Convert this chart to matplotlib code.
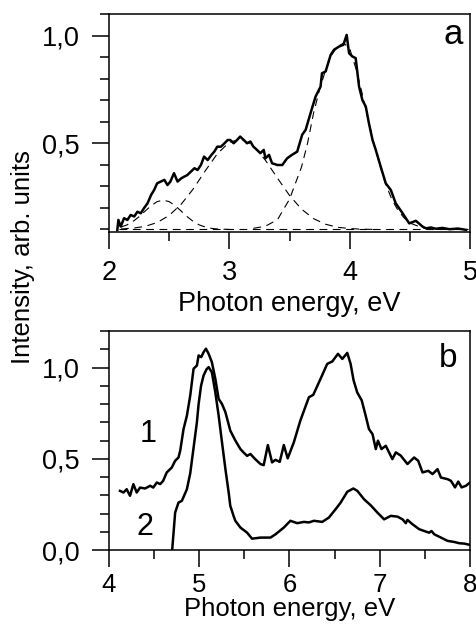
import matplotlib
matplotlib.use("Agg")
import matplotlib.pyplot as plt
from matplotlib.ticker import MultipleLocator, FuncFormatter

plt.rcParams['font.family'] = ['Liberation Sans', 'DejaVu Sans']

# ---------------- Panel a data ----------------
a_x = [2.069, 2.078, 2.097, 2.125, 2.153, 2.18, 2.21, 2.236, 2.264, 2.29, 2.32, 2.35,
       2.375, 2.40, 2.43, 2.46, 2.486, 2.51, 2.54, 2.57, 2.60, 2.625, 2.65, 2.68, 2.71,
       2.736, 2.764, 2.79, 2.82, 2.85, 2.875, 2.90, 2.93, 2.96, 2.986, 3.008, 3.036,
       3.064, 3.09, 3.12, 3.147, 3.175, 3.20, 3.23, 3.258, 3.286, 3.30, 3.33, 3.355,
       3.40, 3.44, 3.48, 3.52, 3.564, 3.605, 3.634, 3.675, 3.717, 3.758, 3.77, 3.80,
       3.842, 3.87, 3.912, 3.948, 3.975, 3.995, 4.022, 4.05, 4.078, 4.106, 4.134, 4.16,
       4.19, 4.217, 4.258, 4.30, 4.342, 4.383, 4.44, 4.495, 4.55, 4.606, 4.634, 4.675,
       4.717, 4.77, 4.83, 4.90, 4.967]
a_y = [0.097, 0.144, 0.113, 0.152, 0.144, 0.167, 0.160, 0.182, 0.175, 0.198, 0.221, 0.260,
       0.283, 0.314, 0.322, 0.330, 0.306, 0.322, 0.361, 0.322, 0.337, 0.345, 0.352, 0.368,
       0.384, 0.376, 0.399, 0.438, 0.422, 0.445, 0.461, 0.484, 0.484, 0.500, 0.515, 0.515,
       0.500, 0.515, 0.531, 0.515, 0.500, 0.508, 0.484, 0.469, 0.454, 0.469, 0.430, 0.446,
       0.407, 0.399, 0.399, 0.430, 0.446, 0.461, 0.539, 0.562, 0.640, 0.717, 0.763, 0.825,
       0.833, 0.910, 0.934, 0.949, 0.957, 1.003, 0.918, 0.903, 0.895, 0.763, 0.700, 0.670,
       0.593, 0.515, 0.469, 0.391, 0.314, 0.283, 0.221, 0.175, 0.128, 0.140, 0.113, 0.105,
       0.109, 0.103, 0.107, 0.101, 0.104, 0.098]

g1_x = [2.10, 2.15, 2.20, 2.25, 2.30, 2.35, 2.40, 2.45, 2.50, 2.55, 2.60, 2.65, 2.70,
        2.75, 2.80, 2.85, 2.90, 2.95, 3.00]
g1_y = [0.111, 0.121, 0.137, 0.159, 0.185, 0.210, 0.229, 0.236, 0.229, 0.210, 0.185,
        0.159, 0.137, 0.121, 0.111, 0.105, 0.102, 0.101, 0.100]

g2_x = [2.1, 2.2, 2.3, 2.4, 2.5, 2.6, 2.7, 2.8, 2.9, 3.0, 3.1, 3.2, 3.3, 3.4, 3.5, 3.6,
        3.7, 3.8, 3.9, 4.0, 4.1, 4.2]
g2_y = [0.102, 0.106, 0.114, 0.132, 0.165, 0.217, 0.288, 0.372, 0.451, 0.505, 0.519,
        0.488, 0.421, 0.338, 0.258, 0.194, 0.150, 0.124, 0.110, 0.104, 0.101, 0.100]

g3_x = [3.2, 3.3, 3.4, 3.5, 3.6, 3.65, 3.7, 3.75, 3.8, 3.85, 3.9, 3.95, 4.0, 4.05, 4.1,
        4.15, 4.2, 4.25, 4.3, 4.35, 4.4, 4.45, 4.5, 4.6, 4.7, 4.8]
g3_y = [0.105, 0.115, 0.145, 0.24, 0.39, 0.50, 0.64, 0.75, 0.84, 0.91, 0.95, 0.965,
        0.94, 0.85, 0.74, 0.62, 0.50, 0.40, 0.31, 0.24, 0.19, 0.155, 0.13, 0.108, 0.10, 0.10]

base_x = [2.08, 4.98]
base_y = [0.10, 0.10]

# ---------------- Panel b data ----------------
b1_x = [4.122, 4.16, 4.196, 4.233, 4.27, 4.307, 4.344, 4.40, 4.456, 4.49, 4.53, 4.567,
        4.60, 4.64, 4.696, 4.733, 4.77, 4.789, 4.826, 4.863, 4.90, 4.937, 4.974, 4.993,
        5.022, 5.048, 5.074, 5.104, 5.14, 5.178, 5.215, 5.252, 5.29, 5.344, 5.40, 5.456,
        5.49, 5.53, 5.567, 5.62, 5.678, 5.714, 5.76, 5.807, 5.844, 5.892, 5.937, 5.98,
        6.048, 6.12, 6.215, 6.263, 6.344, 6.418, 6.474, 6.537, 6.585, 6.64, 6.677, 6.71,
        6.75, 6.80, 6.844, 6.88, 6.92, 6.956, 6.98, 7.019, 7.067, 7.14, 7.178, 7.233,
        7.307, 7.381, 7.426, 7.474, 7.537, 7.585, 7.64, 7.678, 7.752, 7.789, 7.834, 7.87,
        7.907, 7.956, 8.0]
b1_y = [0.324, 0.315, 0.333, 0.297, 0.361, 0.315, 0.342, 0.337, 0.352, 0.342, 0.370, 0.361,
        0.379, 0.425, 0.452, 0.489, 0.507, 0.544, 0.663, 0.736, 0.846, 0.993, 1.011, 1.066,
        1.057, 1.084, 1.103, 1.075, 1.029, 0.938, 0.828, 0.800, 0.755, 0.654, 0.600, 0.553,
        0.535, 0.516, 0.526, 0.498, 0.471, 0.465, 0.575, 0.480, 0.494, 0.483, 0.575, 0.502,
        0.590, 0.709, 0.837, 0.850, 0.938, 1.020, 1.033, 1.075, 1.047, 1.080, 1.020, 0.930,
        0.864, 0.820, 0.736, 0.663, 0.635, 0.553, 0.599, 0.553, 0.571, 0.498, 0.535, 0.517,
        0.471, 0.507, 0.489, 0.425, 0.434, 0.416, 0.443, 0.397, 0.388, 0.379, 0.343, 0.375,
        0.343, 0.352, 0.370]

b2_x = [4.70, 4.733, 4.77, 4.807, 4.863, 4.90, 4.937, 4.974, 4.993, 5.02, 5.048, 5.08,
        5.104, 5.14, 5.178, 5.215, 5.252, 5.29, 5.326, 5.344, 5.38, 5.40, 5.456, 5.53,
        5.585, 5.678, 5.789, 5.845, 5.937, 6.01, 6.085, 6.16, 6.215, 6.27, 6.363, 6.437,
        6.51, 6.567, 6.64, 6.707, 6.752, 6.826, 6.9, 6.974, 7.048, 7.122, 7.196, 7.252,
        7.289, 7.307, 7.363, 7.437, 7.493, 7.548, 7.574, 7.604, 7.678, 7.752, 7.826, 7.882,
        7.937, 8.0]
b2_y = [0.0, 0.205, 0.260, 0.269, 0.333, 0.420, 0.560, 0.700, 0.800, 0.900, 0.956, 0.990,
        1.002, 0.974, 0.864, 0.736, 0.590, 0.443, 0.315, 0.242, 0.187, 0.160, 0.123, 0.095,
        0.062, 0.068, 0.068, 0.086, 0.123, 0.160, 0.147, 0.154, 0.151, 0.160, 0.154, 0.178,
        0.223, 0.260, 0.319, 0.337, 0.324, 0.278, 0.245, 0.205, 0.168, 0.187, 0.183, 0.168,
        0.147, 0.165, 0.141, 0.114, 0.104, 0.095, 0.104, 0.086, 0.068, 0.050, 0.044, 0.037,
        0.035, 0.028]

a_xticks = [2, 3, 4, 5]
b_xticks = [4, 5, 6, 7, 8]
a_yticks = [0.5, 1.0]
b_yticks = [0.0, 0.5, 1.0]

FS = 19.5
W, H = 476, 632
fig = plt.figure(figsize=(W / 100, H / 100), dpi=100)

def px_axes(left, top, right, bottom):
    return fig.add_axes([left / W, 1 - bottom / H, (right - left) / W, (bottom - top) / H])

axa = px_axes(109, 14, 470, 232)
axb = px_axes(109, 331, 470, 550)

comma = FuncFormatter(lambda v, p: ("%.1f" % v).replace('.', ','))
intfmt = FuncFormatter(lambda v, p: "%d" % round(v))

for ax in (axa, axb):
    for s in ax.spines.values():
        s.set_linewidth(1.1)
    ax.tick_params(which='both', direction='out', width=1.1, labelsize=FS,
                   top=False, right=False)
    ax.tick_params(which='major', length=12)
    ax.tick_params(which='minor', length=6.5)
    ax.tick_params(axis='y', which='major', pad=9)
    ax.yaxis.set_major_formatter(comma)
    ax.xaxis.set_major_formatter(intfmt)
    ax.yaxis.set_minor_locator(MultipleLocator(0.1))
    ax.xaxis.set_minor_locator(MultipleLocator(0.5))

axa.tick_params(axis='x', which='major', pad=8.5)
axa.set_xlabel("Photon energy, eV", fontsize=FS, labelpad=3)
axb.tick_params(axis='x', which='major', pad=4.5, labelsize=18.5)
axb.set_xlabel("Photon energy, eV", fontsize=18.5, labelpad=0)

# Panel a
axa.plot(a_x, a_y, color='black', lw=1.8)
dash_kw = dict(color='black', lw=0.8, dashes=(7, 5))
axa.plot(base_x, base_y, **dash_kw)
axa.plot(g1_x, g1_y, **dash_kw)
axa.plot(g2_x, g2_y, **dash_kw)
axa.plot(g3_x, g3_y, **dash_kw)
axa.set_xlim(2, 5)
axa.set_ylim(0.088, 1.10)
axa.set_xticks(a_xticks)
axa.set_yticks(a_yticks)
axa.text(0.953, 0.904, "a", transform=axa.transAxes, fontsize=25, ha='center', va='center')

# Panel b
axb.plot(b1_x, b1_y, color='black', lw=1.8)
axb.plot(b2_x, b2_y, color='black', lw=1.8)
axb.set_xlim(4, 8)
axb.set_ylim(0, 1.2)
axb.set_xticks(b_xticks)
axb.set_yticks(b_yticks)
axb.text(0.939, 0.874, "b", transform=axb.transAxes, fontsize=24, ha='center', va='center')
axb.text(4.433, 0.637, "1", fontsize=22, ha='center', va='center')
axb.text(4.40, 0.126, "2", fontsize=22, ha='center', va='center')

fig.text(23 / W, 1 - 257 / H, "Intensity, arb. units", rotation=90, fontsize=18.5,
         ha='center', va='center')

fig.savefig("out.png", dpi=100)
